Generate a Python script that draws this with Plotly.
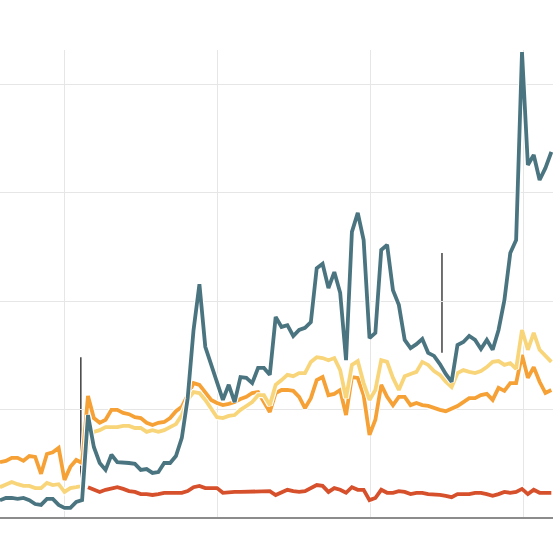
import pandas as pd
import plotly.graph_objects as go

# Fortnightly observations
dates = pd.date_range("2008-07-30", periods=95, freq="14D")

teal = [3.9, 4.4, 4.4, 4.2, 4.4, 3.9, 3.0, 2.8, 4.2, 4.2, 2.8, 2.1, 2.1, 3.5, 3.9,
        23.6, 16.2, 12.5, 10.9, 14.4, 12.7, 12.7, 12.5, 12.3, 10.9, 11.1, 10.2, 10.4,
        12.5, 12.5, 14.1, 18.3, 27.5, 43.3, 53.9, 39.4, 35.2, 30.6, 27.1, 30.6, 26.6,
        32.4, 32.2, 31.0, 34.5, 34.5, 32.9, 46.3, 44.0, 44.4, 41.9, 43.3, 43.8, 45.1,
        57.6, 58.6, 53.0, 56.7, 51.9, 36.3, 66.0, 70.4, 64.1, 41.4, 42.6, 61.8, 63.0,
        52.5, 49.1, 41.0, 39.1, 40.0, 41.2, 38.0, 37.3, 35.4, 33.1, 31.3, 39.8, 40.5,
        41.9, 41.0, 38.9, 41.0, 38.7, 43.3, 50.2, 61.1, 64.1, 107.6, 81.5, 83.8, 78.0,
        80.8, 84.5]

yellow = [6.9, 7.6, 8.1, 7.6, 7.2, 7.2, 6.7, 6.7, 7.9, 7.4, 7.6, 5.8, 6.7, 6.9, 7.2,
          17.8, 19.7, 20.1, 20.8, 20.8, 20.8, 21.1, 21.1, 20.6, 20.6, 19.7, 20.1, 19.7,
          20.1, 20.8, 21.5, 23.6, 27.1, 28.9, 28.7, 27.1, 25.2, 23.1, 22.9, 23.4, 23.6,
          24.8, 25.7, 26.6, 28.2, 28.2, 25.9, 30.6, 31.7, 32.9, 32.6, 33.3, 33.3, 35.9,
          37.0, 36.8, 36.3, 36.8, 34.0, 27.5, 35.2, 36.1, 31.0, 27.1, 29.4, 36.3, 35.9,
          32.2, 29.4, 32.6, 33.1, 33.6, 35.9, 35.2, 33.8, 32.9, 31.3, 30.1, 33.3, 34.0,
          33.6, 33.3, 33.8, 34.7, 35.9, 36.1, 35.2, 35.6, 34.3, 43.3, 38.7, 42.6, 38.7,
          37.3, 35.9]

orange = [12.7, 13.0, 13.7, 13.7, 13.0, 14.1, 13.9, 10.0, 14.6, 15.0, 16.0, 8.6, 11.6,
          13.2, 12.5, 28.0, 22.9, 21.8, 22.5, 24.8, 24.8, 24.1, 23.8, 23.1, 22.9, 21.8,
          21.3, 21.8, 22.0, 22.9, 24.5, 25.5, 28.2, 31.0, 30.6, 28.7, 27.1, 26.4, 25.9,
          26.2, 26.6, 27.3, 27.8, 28.7, 28.9, 26.6, 24.3, 28.7, 29.4, 29.4, 29.2, 27.8,
          25.2, 27.5, 31.7, 32.4, 28.2, 28.5, 29.4, 23.6, 32.4, 32.2, 28.2, 19.0, 22.5,
          30.6, 27.8, 25.9, 27.8, 27.8, 25.9, 26.4, 25.9, 25.7, 25.2, 24.8, 24.5, 25.0,
          25.7, 26.6, 27.5, 27.5, 28.2, 28.5, 27.1, 29.9, 29.2, 31.0, 31.0, 37.5, 32.2,
          34.7, 31.3, 28.7, 29.4]

red = [None] * 15 + [
    6.9, 6.3, 5.8, 6.3, 6.7, 6.9, 6.5, 6.0, 5.8, 5.3, 5.3, 5.1, 5.3, 5.6, 5.6, 5.6,
    5.6, 6.0, 6.9, 7.2, 6.7, 6.7, 6.7, 5.6, 5.8, 5.8, 5.8, 5.8, 6.0, 6.0, 5.8, 6.0,
    5.1, 5.8, 6.3, 6.0, 5.8, 6.0, 6.7, 7.4, 7.2, 5.8, 6.7, 6.3, 5.6, 6.9, 6.3, 6.3,
    3.9, 4.4, 6.3, 5.6, 5.6, 6.0, 5.8, 5.3, 5.6, 5.6, 5.3, 5.3, 5.1, 4.9, 4.6, 5.3,
    5.3, 5.3, 5.6, 5.6, 5.3, 4.9, 5.3, 5.8, 5.6, 5.8, 6.5, 5.3, 6.3, 5.6, 5.6, 5.6]

series = [
    ("red", red, "#d6502c"),
    ("orange", orange, "#f6a136"),
    ("yellow", yellow, "#f9d57a"),
    ("teal", teal, "#4a7580"),
]

fig = go.Figure()
for name, vals, color in series:
    fig.add_trace(go.Scatter(x=dates, y=vals, mode="lines", hoverinfo="skip",
                             line=dict(color="white", width=6),
                             showlegend=False, connectgaps=False))
    fig.add_trace(go.Scatter(x=dates, y=vals, mode="lines", name=name,
                             line=dict(color=color, width=3.8),
                             showlegend=False, connectgaps=False))

# callout lines
callouts = [("2009-02-08", 37.0, 6.0), ("2011-06-20", 61.1, 38.0)]
for xd, y0, y1 in callouts:
    fig.add_shape(type="line", xref="x", yref="y", x0=xd, x1=xd, y0=y0, y1=y1,
                  line=dict(color="#111111", width=1.2), layer="below")

fig.update_layout(
    width=558, height=549,
    margin=dict(l=0, r=5, t=50, b=32),
    paper_bgcolor="white", plot_bgcolor="white",
    xaxis=dict(range=["2008-07-30", pd.Timestamp("2008-07-30") + pd.Timedelta(days=1320)],
               showgrid=True, gridcolor="#e6e6e6", gridwidth=1,
               tick0="2009-01-01", dtick="M12", ticks="", showticklabels=False,
               showline=True, linecolor="#8c8c8c", linewidth=1.5, zeroline=False),
    yaxis=dict(range=[0, 108.1], tickvals=[25, 50, 75, 100], showgrid=True,
               gridcolor="#e6e6e6", gridwidth=1, showticklabels=False, ticks="",
               zeroline=False, showline=False),
)

fig.write_html("out.html", config={"displayModeBar": False},
               post_script="document.body.style.margin='0';")
